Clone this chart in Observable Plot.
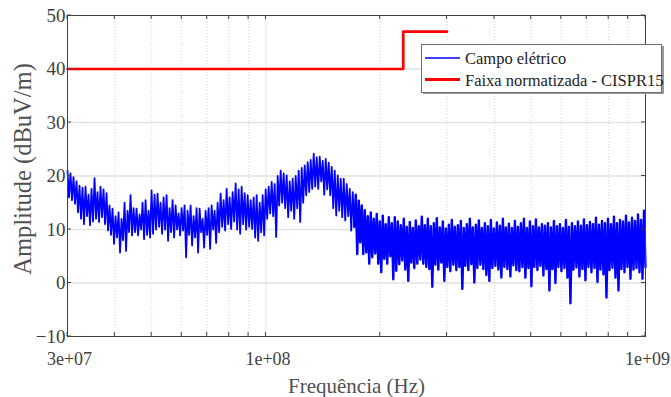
<!DOCTYPE html>
<html><head><meta charset="utf-8">
<script src="https://cdn.jsdelivr.net/npm/d3@7"></script>
<script src="https://cdn.jsdelivr.net/npm/@observablehq/plot@0.6"></script>
<style>body{margin:0;background:#fff}#chart{width:671px;height:397px}</style>
</head><body><div id="chart"></div>
<script>
// Sweep range (Hz) of the measured electric field
const freqStartHz = 3e7;
const freqStopHz = 1e9;
// Local maxima / minima of the measured field (dBuV/m), read along the sweep
const fieldHi = [
21.0,20.5,19.8,19.0,18.2,17.8,18.0,16.5,17.6,19.6,
17.0,18.0,17.5,16.8,14.5,13.9,12.5,13.2,12.0,15.0,
13.5,16.4,14.0,13.9,12.8,15.0,15.5,13.5,17.3,16.5,
16.7,15.0,16.0,16.4,14.0,15.5,14.5,13.0,14.0,14.5,
13.5,14.5,12.5,14.0,13.9,12.0,13.5,14.0,14.5,13.5,
15.0,16.7,15.5,17.6,16.0,17.0,18.6,17.5,18.0,16.8,
16.4,15.5,16.0,16.4,15.0,16.4,17.5,18.0,18.9,18.5,
20.0,21.0,20.5,20.1,19.0,19.5,20.0,21.0,21.5,22.0,
22.6,23.0,24.2,23.5,23.6,22.8,23.2,22.5,21.7,21.0,
20.1,19.5,19.5,18.5,17.6,17.0,16.5,15.4,14.5,13.6,
12.5,13.2,12.0,12.9,11.5,12.6,11.0,12.3,11.2,12.3,
11.5,10.8,12.0,10.5,11.4,10.3,11.7,10.6,12.4,10.8,
12.0,10.6,11.2,12.1,10.4,11.5,10.2,10.9,11.8,10.5,
10.8,11.6,10.3,11.0,12.0,10.4,10.9,11.7,10.3,11.2,
10.6,11.8,10.2,11.3,10.7,12.0,10.4,11.1,10.3,11.6,
10.5,11.2,12.0,10.3,11.5,10.6,11.9,10.4,11.0,10.7,
11.2,10.4,11.6,10.6,11.0,10.3,11.8,10.5,11.2,10.6,
11.5,10.7,11.9,10.8,11.4,11.0,12.2,10.9,11.6,11.2,
12.0,11.0,12.4,11.2,11.8,11.5,12.6,11.3,12.2,11.6,
12.8,11.8,13.5];
const fieldLo = [
16.0,15.5,14.8,13.2,12.0,11.0,12.5,10.8,11.5,12.0,
11.4,12.3,11.0,9.8,9.0,7.3,8.5,5.7,8.0,6.0,
9.5,8.9,9.5,8.9,10.0,8.2,9.0,8.5,9.2,10.0,
10.5,9.2,10.0,7.9,9.5,8.5,10.0,8.9,9.8,4.8,
9.0,7.0,8.5,5.7,9.5,6.6,9.0,6.4,10.0,7.5,
9.5,10.5,9.8,11.0,10.1,11.5,10.0,9.2,11.0,10.0,
10.5,10.1,8.5,7.9,9.5,8.9,12.0,13.0,12.5,8.6,
14.5,15.0,14.0,12.3,13.5,12.0,14.0,11.4,15.0,16.4,
17.0,17.6,18.0,17.6,19.0,16.5,17.5,16.4,14.0,12.6,
13.5,12.3,11.7,12.5,9.8,10.5,5.4,7.6,5.4,5.7,
3.6,4.8,5.5,3.6,2.0,4.5,3.6,5.0,0.7,2.3,
3.5,4.2,2.5,0.4,3.8,2.8,3.6,4.4,3.6,3.0,
2.6,-0.7,3.4,2.5,3.8,0.4,3.0,2.2,3.4,2.4,
3.0,-1.1,3.2,2.4,3.5,0.1,2.8,3.4,2.6,1.5,
0.4,2.8,3.2,2.5,1.0,3.0,2.6,1.2,3.3,2.4,
2.2,3.0,1.0,2.8,-0.6,3.0,2.4,3.2,1.4,2.6,
-1.4,2.6,0.0,3.0,2.2,2.8,1.0,-3.8,2.5,2.9,
1.2,2.6,0.5,3.0,2.0,2.8,0.2,2.5,1.6,-2.7,
2.4,2.8,1.0,-1.4,2.6,2.0,3.0,0.8,2.5,2.8,
2.0,0.8,3.0];
// CISPR 15 limit (step)
const limitFreqHz = [3e7, 2.3e8, 2.3e8, 3e8];
const limitLevel = [40, 40, 47, 47];
// Axes
const xTicks = [3e7, 1e8, 1e9];
const xTickLabels = ["3e+07", "1e+08", "1e+09"];
const xMinor = [4e7, 5e7, 6e7, 7e7, 8e7, 9e7, 2e8, 3e8, 4e8, 5e8, 6e8, 7e8, 8e8, 9e8];
const yTicks = [-10, 0, 10, 20, 30, 40, 50];
const seriesNames = ["Campo elétrico", "Faixa normatizada - CISPR15"];
const seriesColors = ["#0000ff", "#ff0000"];
const xLabel = "Frequência (Hz)";
const yLabel = "Amplitude (dBuV/m)";

// Build sweep table: each reading pair (max, min) on a log-spaced sweep grid
const nPts = fieldHi.length * 2;
const ratio = freqStopHz / freqStartHz;
const field = [];
for (let i = 0; i < fieldHi.length; i++) {
  field.push({f: freqStartHz * Math.pow(ratio, (2 * i) / (nPts - 1)), v: fieldHi[i]});
  field.push({f: freqStartHz * Math.pow(ratio, (2 * i + 1) / (nPts - 1)), v: fieldLo[i]});
}
const limit = limitFreqHz.map((f, i) => ({f, v: limitLevel[i]}));
const denseFrom = 1.7e8;

const font = "'Liberation Serif', 'Times New Roman', serif";
const plot = Plot.plot({
  width: 671, height: 397,
  marginLeft: 67, marginRight: 26, marginTop: 15, marginBottom: 61,
  x: {type: "log", domain: [freqStartHz, freqStopHz]},
  y: {domain: [-10, 50]},
  style: {fontFamily: font, fontSize: "19px", color: "#404040", background: "white"},
  marks: [
    Plot.gridX(xMinor, {stroke: "#d4d4d4", strokeOpacity: 1, strokeDasharray: "1,2"}),
    Plot.gridX([1e8], {stroke: "#e2e2e2", strokeOpacity: 1}),
    Plot.gridY(yTicks.slice(1, -1), {stroke: "#e2e2e2", strokeOpacity: 1, strokeWidth: 1.3}),
    Plot.line(field.filter(d => d.f <= denseFrom * 1.01), {x: "f", y: "v", stroke: seriesColors[0], strokeWidth: 1.8}),
    Plot.line(field.filter(d => d.f >= denseFrom), {x: "f", y: "v", stroke: seriesColors[0], strokeWidth: 2.4}),
    Plot.line(limit, {x: "f", y: "v", stroke: seriesColors[1], strokeWidth: 2.7}),
    Plot.frame({stroke: "#404040"}),
    Plot.axisY(yTicks, {tickSize: 0, tickPadding: 2, label: null}),
    Plot.axisX(xTicks, {tickSize: 0, tickPadding: 16, dx: 2, fontSize: 18, label: null,
      tickFormat: d => xTickLabels[xTicks.indexOf(d)]}),
    Plot.text([yLabel], {frameAnchor: "left", textAnchor: "middle", lineAnchor: "middle",
      rotate: -90, dx: -44, dy: -7, fontSize: 24.5, fill: "#505050"}),
    Plot.text([xLabel], {frameAnchor: "bottom", textAnchor: "middle", lineAnchor: "middle",
      dy: 50, fontSize: 21, fill: "#505050"})
  ]
});
document.getElementById("chart").append(plot);

// inward ticks and legend
const sx = plot.scale("x"), sy = plot.scale("y");
const svg = d3.select(plot);
const x0 = sx.apply(freqStartHz), x1 = sx.apply(freqStopHz);
const y0 = sy.apply(-10), y1 = sy.apply(50);
const g = svg.append("g").attr("stroke", "#404040").attr("stroke-width", 1);
for (const t of yTicks) {
  const y = sy.apply(t);
  g.append("line").attr("x1", x0).attr("x2", x0 + 4).attr("y1", y).attr("y2", y);
  g.append("line").attr("x1", x1).attr("x2", x1 - 4).attr("y1", y).attr("y2", y);
}
for (const t of xTicks.concat(xMinor)) {
  const x = sx.apply(t);
  g.append("line").attr("x1", x).attr("x2", x).attr("y1", y0).attr("y2", y0 - 4);
  g.append("line").attr("x1", x).attr("x2", x).attr("y1", y1).attr("y2", y1 + 4);
}
const lg = svg.append("g").attr("font-family", font).attr("font-size", 16.5).attr("text-anchor", "start");
lg.append("rect").attr("x", 423).attr("y", 46).attr("width", 241).attr("height", 48).attr("fill", "#9a9a9a");
lg.append("rect").attr("x", 421.5).attr("y", 44.5).attr("width", 240).attr("height", 48)
  .attr("fill", "white").attr("stroke", "#6e6e6e");
const rowY = [58, 79.5];
seriesNames.forEach((name, i) => {
  lg.append("line").attr("x1", 425).attr("x2", 460).attr("y1", rowY[i]).attr("y2", rowY[i])
    .attr("stroke", seriesColors[i]).attr("stroke-width", i === 0 ? 1.3 : 2.8);
  lg.append("text").attr("x", 465).attr("y", rowY[i] + 6).attr("fill", "#222")
    .attr("text-anchor", "start").text(name);
});
</script>
</body></html>
